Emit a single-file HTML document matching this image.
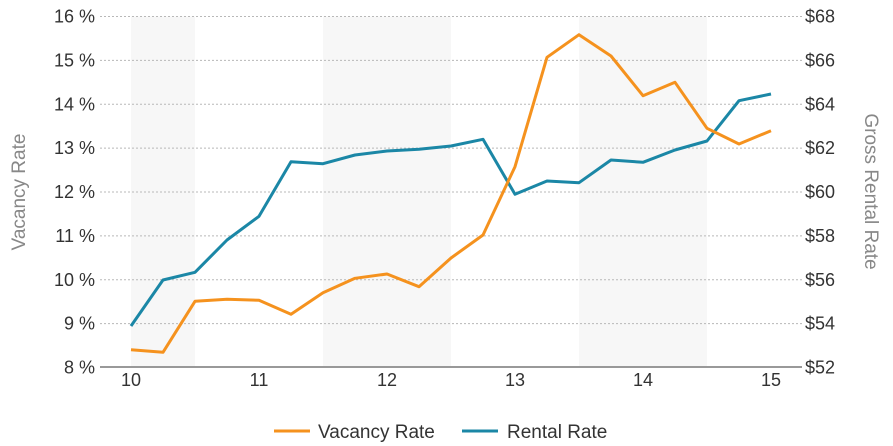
<!DOCTYPE html>
<html><head><meta charset="utf-8"><style>
html,body{margin:0;padding:0;background:#fff;}
svg{display:block;}
text{font-family:"Liberation Sans",Arial,sans-serif;}
</style></head><body>
<svg width="893" height="446" viewBox="0 0 893 446" xmlns="http://www.w3.org/2000/svg">
<rect width="893" height="446" fill="#fff"/>
<!-- shaded bands -->
<rect x="131" y="16.5" width="64" height="350" fill="#f7f7f7"/>
<rect x="323" y="16.5" width="128" height="350" fill="#f7f7f7"/>
<rect x="579" y="16.5" width="128" height="350" fill="#f7f7f7"/>
<!-- gridlines -->
<g stroke="#b8b8b8" stroke-width="1" stroke-dasharray="2,2">
<line x1="100" x2="802" y1="16.5" y2="16.5"/>
<line x1="100" x2="802" y1="60.4" y2="60.4"/>
<line x1="100" x2="802" y1="104.3" y2="104.3"/>
<line x1="100" x2="802" y1="148.1" y2="148.1"/>
<line x1="100" x2="802" y1="192" y2="192"/>
<line x1="100" x2="802" y1="235.9" y2="235.9"/>
<line x1="100" x2="802" y1="279.8" y2="279.8"/>
<line x1="100" x2="802" y1="323.6" y2="323.6"/>
</g>
<line x1="100" x2="802" y1="367" y2="367" stroke="#999" stroke-width="2"/>
<!-- left ticks -->
<g font-size="18" fill="#333" text-anchor="end">
<text x="95" y="22.5">16 %</text>
<text x="95" y="66.4">15 %</text>
<text x="95" y="110.3">14 %</text>
<text x="95" y="154.1">13 %</text>
<text x="95" y="198">12 %</text>
<text x="95" y="241.9">11 %</text>
<text x="95" y="285.8">10 %</text>
<text x="95" y="329.6">9 %</text>
<text x="95" y="373.5">8 %</text>
</g>
<!-- right ticks -->
<g font-size="18" fill="#333" text-anchor="start">
<text x="805" y="22.5">$68</text>
<text x="805" y="66.4">$66</text>
<text x="805" y="110.3">$64</text>
<text x="805" y="154.1">$62</text>
<text x="805" y="198">$60</text>
<text x="805" y="241.9">$58</text>
<text x="805" y="285.8">$56</text>
<text x="805" y="329.6">$54</text>
<text x="805" y="373.5">$52</text>
</g>
<!-- x ticks -->
<g font-size="18" fill="#333" text-anchor="middle">
<text x="131" y="386">10</text>
<text x="259" y="386">11</text>
<text x="387" y="386">12</text>
<text x="515" y="386">13</text>
<text x="643" y="386">14</text>
<text x="771" y="386">15</text>
</g>
<!-- axis titles -->
<text font-size="19" fill="#888" text-anchor="middle" transform="translate(25,192) rotate(-90)">Vacancy Rate</text>
<text font-size="19" fill="#888" text-anchor="middle" transform="translate(865,191.5) rotate(90)">Gross Rental Rate</text>
<!-- series -->
<polyline fill="none" stroke="#1b87a6" stroke-width="3" stroke-linejoin="round" points="131,326 163,280 195,272.3 227,240 259,216.3 291,161.7 323,163.7 355,155 387,151 419,149.3 451,146 483,139.3 515,194.3 547,181 579,182.7 611,160 643,162.3 675,150 707,141 739,100.7 771,94"/>
<polyline fill="none" stroke="#f5921e" stroke-width="3" stroke-linejoin="round" points="131,349.7 163,352.3 195,301.3 227,299.3 259,300.3 291,314.3 323,292.7 355,278.3 387,274 419,286.7 451,258 483,235 515,166.7 547,57.3 579,34.7 611,56 643,95.7 675,82.3 707,128.3 739,144 771,130.7"/>
<!-- legend -->
<line x1="274" x2="310" y1="431" y2="431" stroke="#f5921e" stroke-width="3"/>
<text x="318" y="438" font-size="19" fill="#333">Vacancy Rate</text>
<line x1="462" x2="498" y1="431" y2="431" stroke="#1b87a6" stroke-width="3"/>
<text x="507" y="438" font-size="19" fill="#333">Rental Rate</text>
</svg>
</body></html>
